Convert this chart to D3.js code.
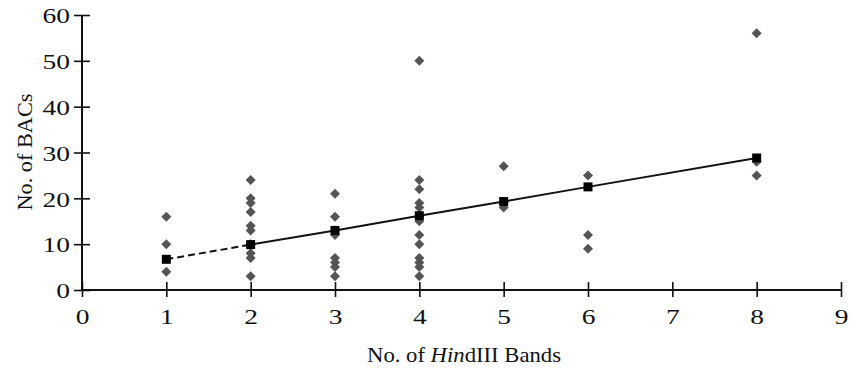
<!DOCTYPE html>
<html><head><meta charset="utf-8">
<script src="https://cdn.jsdelivr.net/npm/d3@7"></script>
<style>body{margin:0;background:#fff}svg{display:block}text{font-family:"Liberation Serif","Times New Roman",serif;fill:#111}</style>
</head><body><svg id="c" width="858" height="370"></svg>
<script>
// Observed BAC counts per number of HindIII bands
const bandCounts = [1, 2, 3, 4, 5, 6, 8];
const bacValues = [
  [16, 10, 4],
  [24, 20, 19, 17, 14, 13, 10, 8, 7, 3],
  [21, 16, 13, 12, 7, 6, 5, 3],
  [50, 24, 22, 19, 18, 16, 15, 12, 10, 7, 6, 5, 3],
  [27, 19, 18],
  [25, 12, 9],
  [56, 28, 25]
];
// Fitted trend values (squares)
const trendValues = [6.7, 9.9, 13.0, 16.2, 19.3, 22.5, 28.8];
const xTicks = [0, 1, 2, 3, 4, 5, 6, 7, 8, 9];
const yTicks = [0, 10, 20, 30, 40, 50, 60];

const svg = d3.select("#c");
const x = d3.scaleLinear().domain([0, 9]).range([82, 841]);
const y = d3.scaleLinear().domain([0, 60]).range([290, 15]);

// axes
const gx = svg.append("g").attr("transform", "translate(0,290)")
  .call(d3.axisBottom(x).tickValues(xTicks).tickSize(0).tickPadding(0).tickFormat(d3.format("d")));
gx.select(".domain").remove();
gx.selectAll(".tick text").remove();
gx.append("line").attr("x1", x(0)).attr("x2", x(9)).attr("stroke", "#111").attr("stroke-width", 2);
gx.selectAll(".tick").append("line").attr("y1", -8).attr("y2", 7).attr("stroke", "#111").attr("stroke-width", 1.6);
gx.selectAll(".tick").append("text").attr("transform", "translate(0,34) scale(1.25,1)").attr("text-anchor", "middle")
  .style("font-size", "22px").text(d => d);

const gy = svg.append("g").attr("transform", "translate(82,0)")
  .call(d3.axisLeft(y).tickValues(yTicks).tickSize(0).tickPadding(0));
gy.select(".domain").remove();
gy.selectAll(".tick text").remove();
gy.append("line").attr("y1", y(0)).attr("y2", y(60)).attr("stroke", "#111").attr("stroke-width", 2);
gy.selectAll(".tick").append("line").attr("x1", -8).attr("x2", 8).attr("stroke", "#111").attr("stroke-width", 1.6);
gy.selectAll(".tick").append("text").attr("transform", "translate(-12,0) scale(1.25,1)").attr("dy", "0.35em").attr("text-anchor", "end")
  .style("font-size", "22px").text(d => d);

// titles
svg.append("text").attr("transform", "translate(32,152) rotate(-90)").attr("text-anchor", "middle")
  .style("font-size", "21px").attr("textLength", 117).attr("lengthAdjust", "spacingAndGlyphs").text("No. of BACs");
const t = svg.append("text").attr("x", 464).attr("y", 362).attr("text-anchor", "middle").style("font-size", "21px")
  .attr("textLength", 194).attr("lengthAdjust", "spacingAndGlyphs");
t.append("tspan").text("No. of ");
t.append("tspan").style("font-style", "italic").text("Hin");
t.append("tspan").text("dIII Bands");

// scatter diamonds
const pts = [];
bandCounts.forEach((b, i) => bacValues[i].forEach(v => pts.push({b, v})));
const diamond = d3.symbol().type(d3.symbolDiamond2).size(64);
svg.append("g").selectAll("path").data(pts).join("path")
  .attr("d", diamond)
  .attr("transform", d => `translate(${x(d.b)},${y(d.v)})`)
  .attr("fill", "#555");

// trend line
const tr = bandCounts.map((b, i) => ({b, v: trendValues[i]}));
const line = d3.line().x(d => x(d.b)).y(d => y(d.v));
svg.append("path").attr("d", line(tr.slice(0, 2))).attr("fill", "none")
  .attr("stroke", "#111").attr("stroke-width", 2).attr("stroke-dasharray", "7,4");
svg.append("path").attr("d", line(tr.slice(1))).attr("fill", "none")
  .attr("stroke", "#111").attr("stroke-width", 2);
svg.append("g").selectAll("rect").data(tr).join("rect")
  .attr("x", d => x(d.b) - 4.5).attr("y", d => y(d.v) - 4.5).attr("width", 9).attr("height", 9)
  .attr("fill", "#000");
</script></body></html>
